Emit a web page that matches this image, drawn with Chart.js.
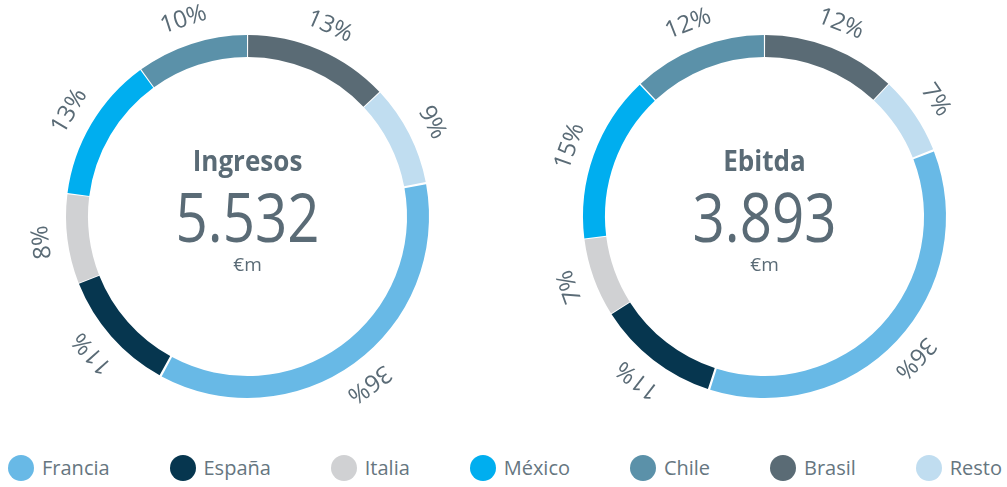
<!DOCTYPE html>
<html><head><meta charset="utf-8">
<script src="https://cdn.jsdelivr.net/npm/chart.js@4/dist/chart.umd.min.js"></script>
<style>
html,body{margin:0;padding:0;background:#fff;width:1007px;height:487px;overflow:hidden;position:relative;font-family:"Open Sans",sans-serif;}
.wrap{position:absolute;width:440px;height:440px;top:-3px;}
#w1{left:28px}
#w2{left:545px}
#legend{position:absolute;left:8px;right:5px;top:454px;height:28px;display:flex;justify-content:space-between;align-items:center;}
.item{display:flex;align-items:center;color:#66767f;font-size:20px;line-height:28px;}
.dot{width:26px;height:26px;border-radius:50%;margin-right:8px;}
</style></head><body>
<div class="wrap" id="w1"><canvas id="c1"></canvas></div>
<div class="wrap" id="w2"><canvas id="c2"></canvas></div>
<div id="legend"></div>
<script>
const categories = ['Francia','España','Italia','México','Chile','Brasil','Resto'];
const colors = ['#68b9e6','#06364f','#d0d1d3','#00aeef','#5b91a9','#5a6b75','#c0ddf0'];
const ingresosShare = [36,11,8,13,10,13,9];
const ebitdaShare = [36,11,7,15,12,12,7];
const ingresosTitle = 'Ingresos', ingresosValue = '5.532';
const ebitdaTitle = 'Ebitda', ebitdaValue = '3.893';
const unitLabel = '€m';
const textColor = '#5a6b76';

// ring starts at top with Brasil, then Resto, Francia ... Chile
function startRotation(arr){
  const total = arr.reduce((a,b)=>a+b,0);
  return 360*(arr[5]+arr[6])/total;
}

const ringLabels = {
  id:'ringLabels',
  afterDatasetsDraw(chart){
    const ctx = chart.ctx;
    const meta = chart.getDatasetMeta(0);
    const vals = chart.data.datasets[0].data;
    meta.data.forEach((arc,i)=>{
      const p = arc.getProps(['x','y','startAngle','endAngle','outerRadius'],true);
      const mid = (p.startAngle+p.endAngle)/2;
      const r = p.outerRadius+27;
      ctx.save();
      ctx.translate(p.x+r*Math.cos(mid), p.y+r*Math.sin(mid));
      ctx.rotate(mid+Math.PI/2);
      ctx.font = '400 24px "Open Sans"';
      ctx.fillStyle = textColor;
      ctx.textAlign = 'center';
      ctx.textBaseline = 'middle';
      ctx.fillText(vals[i]+'%',0,0);
      ctx.restore();
    });
  }
};

const centerText = {
  id:'centerText',
  afterDraw(chart, args, opts){
    const ctx = chart.ctx;
    const arc = chart.getDatasetMeta(0).data[0];
    const cx = arc.x, cy = arc.y;
    ctx.save();
    ctx.fillStyle = textColor;
    ctx.textAlign = 'center';
    ctx.textBaseline = 'alphabetic';
    ctx.save(); ctx.translate(cx, cy-46); ctx.scale(0.93,1);
    ctx.font = '700 28px "Open Sans"';
    ctx.fillText(opts.title,0,0); ctx.restore();
    ctx.save(); ctx.translate(cx, cy+25); ctx.scale(0.83,1);
    ctx.font = '400 68px "Open Sans"';
    ctx.fillText(opts.value,0,0); ctx.restore();
    ctx.font = '400 19px "Open Sans"';
    ctx.fillText(opts.unit,cx,cy+54);
    ctx.restore();
  }
};

function makeChart(id, data, title, value){
  return new Chart(document.getElementById(id), {
    type:'doughnut',
    data:{labels:categories, datasets:[{data:data, backgroundColor:colors, borderWidth:0, spacing:3}]},
    options:{
      responsive:true, maintainAspectRatio:false, animation:false,
      rotation:startRotation(data),
      cutout:'87.8%',
      layout:{padding:{left:38,right:39,top:38,bottom:39}},
      plugins:{legend:{display:false}, tooltip:{enabled:false},
        centerText:{title:title, value:value, unit:unitLabel}}
    },
    plugins:[ringLabels, centerText]
  });
}
const ch1 = makeChart('c1', ingresosShare, ingresosTitle, ingresosValue);
const ch2 = makeChart('c2', ebitdaShare, ebitdaTitle, ebitdaValue);

// HTML legend from chart legend items
const leg = document.getElementById('legend');
ch1.options.plugins.legend.labels.generateLabels(ch1).forEach(it=>{
  const d = document.createElement('div'); d.className='item';
  const dot = document.createElement('span'); dot.className='dot'; dot.style.background = it.fillStyle;
  const t = document.createElement('span'); t.textContent = it.text;
  d.appendChild(dot); d.appendChild(t); leg.appendChild(d);
});
</script>
</body></html>
